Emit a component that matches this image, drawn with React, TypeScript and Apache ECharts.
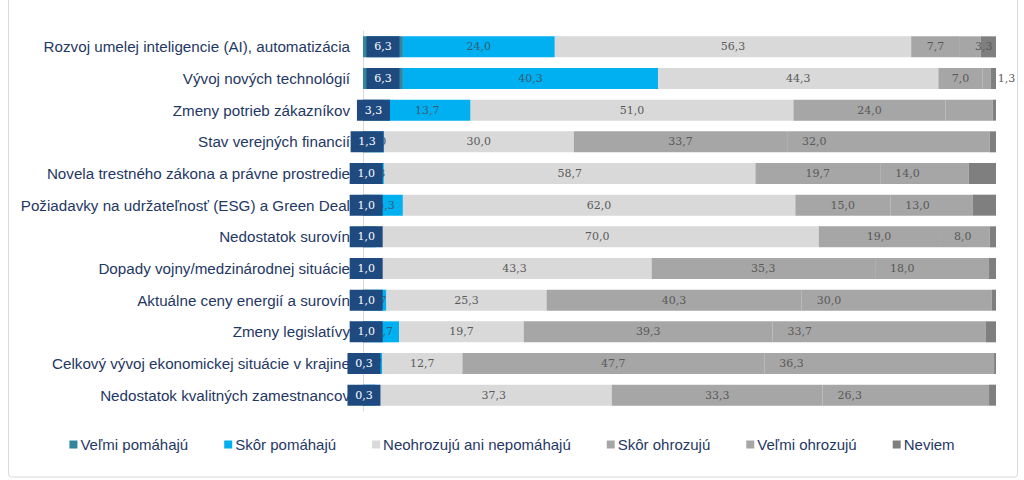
import React, { useEffect, useRef } from "react";
import * as echarts from "echarts";

const categories = [
  "Rozvoj umelej inteligencie (AI), automatizácia",
  "Vývoj nových technológií",
  "Zmeny potrieb zákazníkov",
  "Stav verejných financií",
  "Novela trestného zákona a právne prostredie",
  "Požiadavky na udržateľnosť (ESG) a Green Deal",
  "Nedostatok surovín",
  "Dopady vojny/medzinárodnej situácie",
  "Aktuálne ceny energií a surovín",
  "Zmeny legislatívy",
  "Celkový vývoj ekonomickej situácie v krajine",
  "Nedostatok kvalitných zamestnancov",
];

const seriesNames = [
  "Veľmi pomáhajú",
  "Skôr pomáhajú",
  "Neohrozujú ani nepomáhajú",
  "Skôr ohrozujú",
  "Veľmi ohrozujú",
  "Neviem",
];

const velmiPomahaju = [6.3, 6.3, 3.3, 1.3, 1.0, 1.0, 1.0, 1.0, 1.0, 1.0, 0.3, 0.3];
const skorPomahaju = [24.0, 40.3, 13.7, 2.0, 2.3, 5.3, 1.0, 1.3, 2.7, 4.7, 2.7, 1.7];
const neohrozuju = [56.3, 44.3, 51.0, 30.0, 58.7, 62.0, 70.0, 43.3, 25.3, 19.7, 12.7, 37.3];
const skorOhrozuju = [7.7, 7.0, 24.0, 33.7, 19.7, 15.0, 19.0, 35.3, 40.3, 39.3, 47.7, 33.3];
const velmiOhrozuju = [3.3, 1.3, 7.5, 32.0, 14.0, 13.0, 8.0, 18.0, 30.0, 33.7, 36.3, 26.3];
const neviem = [2.4, 0.8, 0.5, 1.0, 4.3, 3.7, 1.0, 1.1, 0.7, 1.6, 0.3, 1.1];

// indices of "Veľmi ohrozujú" values whose label is not shown
const hiddenVelmiOhrozujuLabels = [2];

const colors = ["#31859c", "#00b0f0", "#d9d9d9", "#a6a6a6", "#a6a6a6", "#7f7f7f"];

const fmt = (p: any) => Number(p.value).toFixed(1).replace(".", ",");

const valueFont = {
  fontFamily: "DejaVu Serif",
  fontSize: 11,
  color: "#595959",
};

export default function App() {
  const ref = useRef<HTMLDivElement>(null);

  useEffect(() => {
    if (!ref.current) return;
    const chart = echarts.init(ref.current, undefined, { renderer: "svg" });

    const baseSeries = (name: string, data: any[], extra: any) => ({
      name,
      type: "bar",
      stack: "total",
      barWidth: 21,
      data,
      ...extra,
    });

    chart.setOption({
      animation: false,
      color: colors,
      graphic: [
        {
          type: "rect",
          shape: { x: 8.5, y: -10, width: 1009, height: 487, r: 3 },
          style: { fill: "none", stroke: "#d9d9d9", lineWidth: 1 },
          silent: true,
        },
      ],
      grid: { left: 363, right: 28, top: 31, bottom: 69, containLabel: false },
      xAxis: { type: "value", min: 0, max: 100, show: false },
      yAxis: {
        type: "category",
        data: categories,
        inverse: true,
        axisLine: { show: true, lineStyle: { color: "#d9d9d9", width: 1 } },
        axisTick: { show: false },
        axisLabel: {
          margin: 13,
          fontFamily: "Liberation Sans",
          fontSize: 15.2,
          color: "#1f3864",
        },
      },
      legend: {
        data: seriesNames,
        bottom: 23,
        left: "center",
        icon: "rect",
        itemWidth: 8,
        itemHeight: 8,
        itemGap: 36,
        textStyle: { fontFamily: "Liberation Sans", fontSize: 15, color: "#1f3864", padding: [0, 0, 0, -2] },
      },
      series: [
        baseSeries(seriesNames[0], velmiPomahaju, {
          z: 5,
          label: {
            show: true,
            position: "inside",
            formatter: fmt,
            fontFamily: "DejaVu Serif",
            fontSize: 11,
            color: "#ffffff",
            backgroundColor: "#1f4a80",
            width: 33,
            height: 21,
            lineHeight: 21,
            align: "center",
            verticalAlign: "middle",
          },
        }),
        baseSeries(seriesNames[1], skorPomahaju, {
          label: { show: true, position: "inside", formatter: fmt, ...valueFont, color: "#3a5b73" },
        }),
        baseSeries(seriesNames[2], neohrozuju, {
          label: { show: true, position: "inside", formatter: fmt, ...valueFont },
        }),
        baseSeries(seriesNames[3], skorOhrozuju, {
          label: { show: true, position: "inside", formatter: fmt, ...valueFont },
        }),
        baseSeries(
          seriesNames[4],
          velmiOhrozuju.map((v, i) =>
            hiddenVelmiOhrozujuLabels.includes(i) ? { value: v, label: { show: false } } : v
          ),
          {
            label: { show: true, position: "insideLeft", distance: 15, formatter: fmt, ...valueFont },
          }
        ),
        baseSeries(seriesNames[5], neviem, { label: { show: false } }),
      ],
    });

    return () => chart.dispose();
  }, []);

  return (
    <div
      ref={ref}
      style={{ position: "fixed", left: 0, top: 0, width: 1024, height: 480, background: "#fff" }}
    />
  );
}
